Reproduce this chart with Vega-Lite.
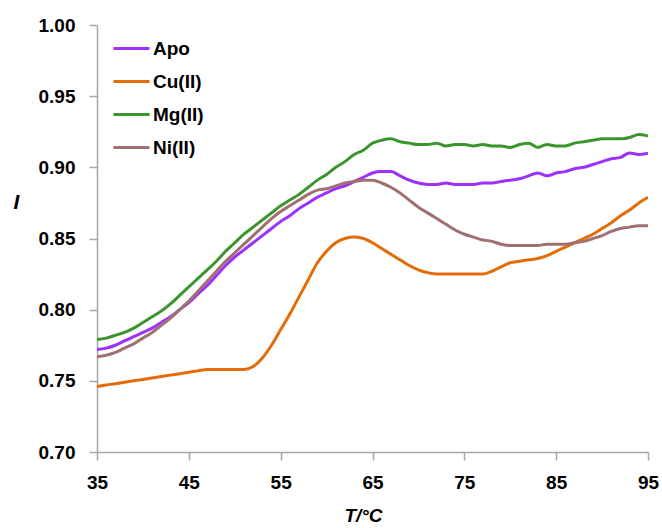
{
  "$schema": "https://vega.github.io/schema/vega-lite/v6.json",
  "width": 551,
  "height": 427,
  "autosize": {"type": "none"},
  "padding": {"left": 97, "top": 25, "right": 14, "bottom": 76},
  "background": "white",
  "config": {
    "view": {"stroke": null},
    "font": "Liberation Sans"
  },
  "datasets": {
    "curves": [
      {"T":35,"I":0.772,"series":"Apo"},{"T":36,"I":0.773,"series":"Apo"},{"T":37,"I":0.775,"series":"Apo"},{"T":38,"I":0.778,"series":"Apo"},{"T":39,"I":0.781,"series":"Apo"},{"T":40,"I":0.784,"series":"Apo"},{"T":41,"I":0.787,"series":"Apo"},{"T":42,"I":0.791,"series":"Apo"},{"T":43,"I":0.795,"series":"Apo"},{"T":44,"I":0.800,"series":"Apo"},{"T":45,"I":0.805,"series":"Apo"},{"T":46,"I":0.811,"series":"Apo"},{"T":47,"I":0.817,"series":"Apo"},{"T":48,"I":0.824,"series":"Apo"},{"T":49,"I":0.831,"series":"Apo"},{"T":50,"I":0.837,"series":"Apo"},{"T":51,"I":0.842,"series":"Apo"},{"T":52,"I":0.847,"series":"Apo"},{"T":53,"I":0.852,"series":"Apo"},{"T":54,"I":0.857,"series":"Apo"},{"T":55,"I":0.862,"series":"Apo"},{"T":56,"I":0.866,"series":"Apo"},{"T":57,"I":0.871,"series":"Apo"},{"T":58,"I":0.875,"series":"Apo"},{"T":59,"I":0.879,"series":"Apo"},{"T":60,"I":0.882,"series":"Apo"},{"T":61,"I":0.885,"series":"Apo"},{"T":62,"I":0.887,"series":"Apo"},{"T":63,"I":0.890,"series":"Apo"},{"T":64,"I":0.893,"series":"Apo"},{"T":65,"I":0.896,"series":"Apo"},{"T":66,"I":0.897,"series":"Apo"},{"T":67,"I":0.897,"series":"Apo"},{"T":68,"I":0.894,"series":"Apo"},{"T":69,"I":0.891,"series":"Apo"},{"T":70,"I":0.889,"series":"Apo"},{"T":71,"I":0.888,"series":"Apo"},{"T":72,"I":0.888,"series":"Apo"},{"T":73,"I":0.889,"series":"Apo"},{"T":74,"I":0.888,"series":"Apo"},{"T":75,"I":0.888,"series":"Apo"},{"T":76,"I":0.888,"series":"Apo"},{"T":77,"I":0.889,"series":"Apo"},{"T":78,"I":0.889,"series":"Apo"},{"T":79,"I":0.890,"series":"Apo"},{"T":80,"I":0.891,"series":"Apo"},{"T":81,"I":0.892,"series":"Apo"},{"T":82,"I":0.894,"series":"Apo"},{"T":83,"I":0.896,"series":"Apo"},{"T":84,"I":0.894,"series":"Apo"},{"T":85,"I":0.896,"series":"Apo"},{"T":86,"I":0.897,"series":"Apo"},{"T":87,"I":0.899,"series":"Apo"},{"T":88,"I":0.900,"series":"Apo"},{"T":89,"I":0.902,"series":"Apo"},{"T":90,"I":0.904,"series":"Apo"},{"T":91,"I":0.906,"series":"Apo"},{"T":92,"I":0.907,"series":"Apo"},{"T":93,"I":0.910,"series":"Apo"},{"T":94,"I":0.909,"series":"Apo"},{"T":95,"I":0.910,"series":"Apo"},
      {"T":35,"I":0.746,"series":"Cu(II)"},{"T":36,"I":0.747,"series":"Cu(II)"},{"T":37,"I":0.748,"series":"Cu(II)"},{"T":38,"I":0.749,"series":"Cu(II)"},{"T":39,"I":0.750,"series":"Cu(II)"},{"T":40,"I":0.751,"series":"Cu(II)"},{"T":41,"I":0.752,"series":"Cu(II)"},{"T":42,"I":0.753,"series":"Cu(II)"},{"T":43,"I":0.754,"series":"Cu(II)"},{"T":44,"I":0.755,"series":"Cu(II)"},{"T":45,"I":0.756,"series":"Cu(II)"},{"T":46,"I":0.757,"series":"Cu(II)"},{"T":47,"I":0.758,"series":"Cu(II)"},{"T":48,"I":0.758,"series":"Cu(II)"},{"T":49,"I":0.758,"series":"Cu(II)"},{"T":50,"I":0.758,"series":"Cu(II)"},{"T":51,"I":0.758,"series":"Cu(II)"},{"T":52,"I":0.760,"series":"Cu(II)"},{"T":53,"I":0.766,"series":"Cu(II)"},{"T":54,"I":0.775,"series":"Cu(II)"},{"T":55,"I":0.786,"series":"Cu(II)"},{"T":56,"I":0.797,"series":"Cu(II)"},{"T":57,"I":0.809,"series":"Cu(II)"},{"T":58,"I":0.821,"series":"Cu(II)"},{"T":59,"I":0.833,"series":"Cu(II)"},{"T":60,"I":0.841,"series":"Cu(II)"},{"T":61,"I":0.847,"series":"Cu(II)"},{"T":62,"I":0.850,"series":"Cu(II)"},{"T":63,"I":0.851,"series":"Cu(II)"},{"T":64,"I":0.850,"series":"Cu(II)"},{"T":65,"I":0.847,"series":"Cu(II)"},{"T":66,"I":0.843,"series":"Cu(II)"},{"T":67,"I":0.839,"series":"Cu(II)"},{"T":68,"I":0.835,"series":"Cu(II)"},{"T":69,"I":0.831,"series":"Cu(II)"},{"T":70,"I":0.828,"series":"Cu(II)"},{"T":71,"I":0.826,"series":"Cu(II)"},{"T":72,"I":0.825,"series":"Cu(II)"},{"T":73,"I":0.825,"series":"Cu(II)"},{"T":74,"I":0.825,"series":"Cu(II)"},{"T":75,"I":0.825,"series":"Cu(II)"},{"T":76,"I":0.825,"series":"Cu(II)"},{"T":77,"I":0.825,"series":"Cu(II)"},{"T":78,"I":0.827,"series":"Cu(II)"},{"T":79,"I":0.830,"series":"Cu(II)"},{"T":80,"I":0.833,"series":"Cu(II)"},{"T":81,"I":0.834,"series":"Cu(II)"},{"T":82,"I":0.835,"series":"Cu(II)"},{"T":83,"I":0.836,"series":"Cu(II)"},{"T":84,"I":0.838,"series":"Cu(II)"},{"T":85,"I":0.841,"series":"Cu(II)"},{"T":86,"I":0.844,"series":"Cu(II)"},{"T":87,"I":0.847,"series":"Cu(II)"},{"T":88,"I":0.850,"series":"Cu(II)"},{"T":89,"I":0.853,"series":"Cu(II)"},{"T":90,"I":0.857,"series":"Cu(II)"},{"T":91,"I":0.861,"series":"Cu(II)"},{"T":92,"I":0.866,"series":"Cu(II)"},{"T":93,"I":0.870,"series":"Cu(II)"},{"T":94,"I":0.875,"series":"Cu(II)"},{"T":95,"I":0.879,"series":"Cu(II)"},
      {"T":35,"I":0.779,"series":"Mg(II)"},{"T":36,"I":0.780,"series":"Mg(II)"},{"T":37,"I":0.782,"series":"Mg(II)"},{"T":38,"I":0.784,"series":"Mg(II)"},{"T":39,"I":0.787,"series":"Mg(II)"},{"T":40,"I":0.791,"series":"Mg(II)"},{"T":41,"I":0.795,"series":"Mg(II)"},{"T":42,"I":0.799,"series":"Mg(II)"},{"T":43,"I":0.804,"series":"Mg(II)"},{"T":44,"I":0.810,"series":"Mg(II)"},{"T":45,"I":0.816,"series":"Mg(II)"},{"T":46,"I":0.822,"series":"Mg(II)"},{"T":47,"I":0.828,"series":"Mg(II)"},{"T":48,"I":0.834,"series":"Mg(II)"},{"T":49,"I":0.841,"series":"Mg(II)"},{"T":50,"I":0.847,"series":"Mg(II)"},{"T":51,"I":0.853,"series":"Mg(II)"},{"T":52,"I":0.858,"series":"Mg(II)"},{"T":53,"I":0.863,"series":"Mg(II)"},{"T":54,"I":0.868,"series":"Mg(II)"},{"T":55,"I":0.873,"series":"Mg(II)"},{"T":56,"I":0.877,"series":"Mg(II)"},{"T":57,"I":0.881,"series":"Mg(II)"},{"T":58,"I":0.886,"series":"Mg(II)"},{"T":59,"I":0.891,"series":"Mg(II)"},{"T":60,"I":0.895,"series":"Mg(II)"},{"T":61,"I":0.900,"series":"Mg(II)"},{"T":62,"I":0.904,"series":"Mg(II)"},{"T":63,"I":0.909,"series":"Mg(II)"},{"T":64,"I":0.912,"series":"Mg(II)"},{"T":65,"I":0.917,"series":"Mg(II)"},{"T":66,"I":0.919,"series":"Mg(II)"},{"T":67,"I":0.920,"series":"Mg(II)"},{"T":68,"I":0.918,"series":"Mg(II)"},{"T":69,"I":0.917,"series":"Mg(II)"},{"T":70,"I":0.916,"series":"Mg(II)"},{"T":71,"I":0.916,"series":"Mg(II)"},{"T":72,"I":0.917,"series":"Mg(II)"},{"T":73,"I":0.915,"series":"Mg(II)"},{"T":74,"I":0.916,"series":"Mg(II)"},{"T":75,"I":0.916,"series":"Mg(II)"},{"T":76,"I":0.915,"series":"Mg(II)"},{"T":77,"I":0.916,"series":"Mg(II)"},{"T":78,"I":0.915,"series":"Mg(II)"},{"T":79,"I":0.915,"series":"Mg(II)"},{"T":80,"I":0.914,"series":"Mg(II)"},{"T":81,"I":0.916,"series":"Mg(II)"},{"T":82,"I":0.917,"series":"Mg(II)"},{"T":83,"I":0.914,"series":"Mg(II)"},{"T":84,"I":0.916,"series":"Mg(II)"},{"T":85,"I":0.915,"series":"Mg(II)"},{"T":86,"I":0.915,"series":"Mg(II)"},{"T":87,"I":0.917,"series":"Mg(II)"},{"T":88,"I":0.918,"series":"Mg(II)"},{"T":89,"I":0.919,"series":"Mg(II)"},{"T":90,"I":0.920,"series":"Mg(II)"},{"T":91,"I":0.920,"series":"Mg(II)"},{"T":92,"I":0.920,"series":"Mg(II)"},{"T":93,"I":0.921,"series":"Mg(II)"},{"T":94,"I":0.923,"series":"Mg(II)"},{"T":95,"I":0.922,"series":"Mg(II)"},
      {"T":35,"I":0.767,"series":"Ni(II)"},{"T":36,"I":0.768,"series":"Ni(II)"},{"T":37,"I":0.770,"series":"Ni(II)"},{"T":38,"I":0.773,"series":"Ni(II)"},{"T":39,"I":0.776,"series":"Ni(II)"},{"T":40,"I":0.780,"series":"Ni(II)"},{"T":41,"I":0.784,"series":"Ni(II)"},{"T":42,"I":0.789,"series":"Ni(II)"},{"T":43,"I":0.794,"series":"Ni(II)"},{"T":44,"I":0.800,"series":"Ni(II)"},{"T":45,"I":0.806,"series":"Ni(II)"},{"T":46,"I":0.813,"series":"Ni(II)"},{"T":47,"I":0.820,"series":"Ni(II)"},{"T":48,"I":0.827,"series":"Ni(II)"},{"T":49,"I":0.834,"series":"Ni(II)"},{"T":50,"I":0.840,"series":"Ni(II)"},{"T":51,"I":0.846,"series":"Ni(II)"},{"T":52,"I":0.852,"series":"Ni(II)"},{"T":53,"I":0.858,"series":"Ni(II)"},{"T":54,"I":0.864,"series":"Ni(II)"},{"T":55,"I":0.869,"series":"Ni(II)"},{"T":56,"I":0.873,"series":"Ni(II)"},{"T":57,"I":0.877,"series":"Ni(II)"},{"T":58,"I":0.881,"series":"Ni(II)"},{"T":59,"I":0.884,"series":"Ni(II)"},{"T":60,"I":0.885,"series":"Ni(II)"},{"T":61,"I":0.887,"series":"Ni(II)"},{"T":62,"I":0.889,"series":"Ni(II)"},{"T":63,"I":0.890,"series":"Ni(II)"},{"T":64,"I":0.891,"series":"Ni(II)"},{"T":65,"I":0.891,"series":"Ni(II)"},{"T":66,"I":0.889,"series":"Ni(II)"},{"T":67,"I":0.886,"series":"Ni(II)"},{"T":68,"I":0.882,"series":"Ni(II)"},{"T":69,"I":0.877,"series":"Ni(II)"},{"T":70,"I":0.872,"series":"Ni(II)"},{"T":71,"I":0.868,"series":"Ni(II)"},{"T":72,"I":0.864,"series":"Ni(II)"},{"T":73,"I":0.860,"series":"Ni(II)"},{"T":74,"I":0.856,"series":"Ni(II)"},{"T":75,"I":0.853,"series":"Ni(II)"},{"T":76,"I":0.851,"series":"Ni(II)"},{"T":77,"I":0.849,"series":"Ni(II)"},{"T":78,"I":0.848,"series":"Ni(II)"},{"T":79,"I":0.846,"series":"Ni(II)"},{"T":80,"I":0.845,"series":"Ni(II)"},{"T":81,"I":0.845,"series":"Ni(II)"},{"T":82,"I":0.845,"series":"Ni(II)"},{"T":83,"I":0.845,"series":"Ni(II)"},{"T":84,"I":0.846,"series":"Ni(II)"},{"T":85,"I":0.846,"series":"Ni(II)"},{"T":86,"I":0.846,"series":"Ni(II)"},{"T":87,"I":0.847,"series":"Ni(II)"},{"T":88,"I":0.848,"series":"Ni(II)"},{"T":89,"I":0.850,"series":"Ni(II)"},{"T":90,"I":0.852,"series":"Ni(II)"},{"T":91,"I":0.855,"series":"Ni(II)"},{"T":92,"I":0.857,"series":"Ni(II)"},{"T":93,"I":0.858,"series":"Ni(II)"},{"T":94,"I":0.859,"series":"Ni(II)"},{"T":95,"I":0.859,"series":"Ni(II)"}
    ]
  },
  "data": {"name": "curves"},
  "mark": {"type": "line", "strokeWidth": 3, "interpolate": "monotone", "clip": true},
  "encoding": {
    "x": {
      "field": "T",
      "type": "quantitative",
      "scale": {"domain": [35, 95], "nice": false, "zero": false},
      "axis": {
        "values": [35, 45, 55, 65, 75, 85, 95],
        "grid": false,
        "domainColor": "#a6a6a6",
        "domainWidth": 1.5,
        "tickColor": "#a6a6a6",
        "tickWidth": 1.5,
        "tickSize": 8,
        "labelFont": "Liberation Sans",
        "labelFontSize": 19,
        "labelFontWeight": "bold",
        "labelColor": "#000000",
        "labelPadding": 13,
        "labelFlush": false,
        "title": "T/°C",
        "titleFont": "Liberation Sans",
        "titleFontSize": 19,
        "titleFontWeight": "bold",
        "titleFontStyle": "italic",
        "titleColor": "#000000",
        "titleX": 266,
        "titleY": 63,
        "titleBaseline": "middle",
        "titleAlign": "center"
      }
    },
    "y": {
      "field": "I",
      "type": "quantitative",
      "scale": {"domain": [0.7, 1.0], "nice": false, "zero": false},
      "axis": {
        "values": [0.7, 0.75, 0.8, 0.85, 0.9, 0.95, 1.0],
        "format": ".2f",
        "grid": false,
        "domainColor": "#a6a6a6",
        "domainWidth": 1.5,
        "tickColor": "#a6a6a6",
        "tickWidth": 1.5,
        "tickSize": 8,
        "labelFont": "Liberation Sans",
        "labelFontSize": 19,
        "labelFontWeight": "bold",
        "labelColor": "#000000",
        "labelPadding": 14,
        "labelFlush": false,
        "title": "I",
        "titleFont": "Liberation Sans",
        "titleFontSize": 21,
        "titleFontWeight": "bold",
        "titleFontStyle": "italic",
        "titleColor": "#000000",
        "titleAngle": 0,
        "titleX": -81,
        "titleY": 177,
        "titleBaseline": "middle",
        "titleAlign": "center"
      }
    },
    "color": {
      "field": "series",
      "type": "nominal",
      "scale": {
        "domain": ["Apo", "Cu(II)", "Mg(II)", "Ni(II)"],
        "range": ["#9B30FF", "#E36C09", "#3A962C", "#A07070"]
      },
      "legend": {
        "title": null,
        "orient": "none",
        "legendX": 15,
        "legendY": 4,
        "symbolType": "stroke",
        "symbolSize": 1296,
        "symbolStrokeWidth": 3,
        "labelFont": "Liberation Sans",
        "labelFontSize": 19,
        "labelFontWeight": "bold",
        "labelColor": "#000000",
        "labelOffset": 2,
        "rowPadding": 3
      }
    }
  }
}
